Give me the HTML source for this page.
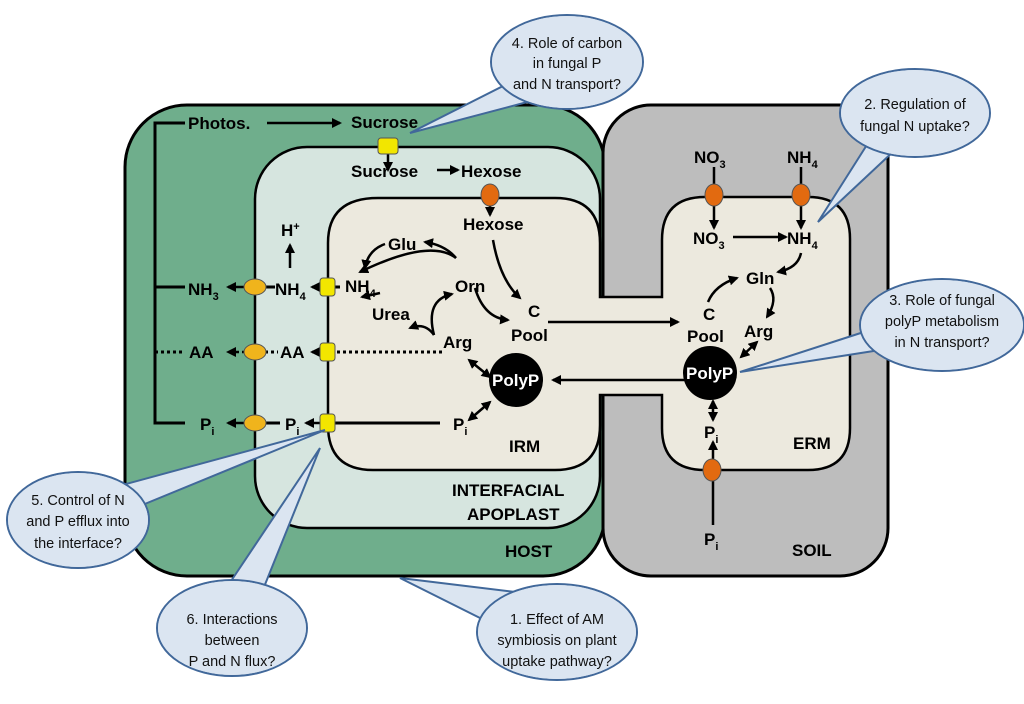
<!DOCTYPE html>
<html><head><meta charset="utf-8"><style>
html,body{margin:0;padding:0;background:#fff}
svg{display:block}
.b{font-family:"Liberation Sans",sans-serif;font-weight:bold;font-size:17px;fill:#000}
.c{font-family:"Liberation Sans",sans-serif;font-size:14.5px;fill:#111;text-anchor:middle}
.w{fill:#fff}
</style></head><body>
<svg width="1024" height="704" viewBox="0 0 1024 704" xmlns="http://www.w3.org/2000/svg">
<defs>
<marker id="a" viewBox="0 0 10 10" refX="8" refY="5" markerWidth="4" markerHeight="4" orient="auto-start-reverse"><path d="M0,0 L10,5 L0,10 Z" fill="#000"/></marker>
</defs>
<rect x="125" y="105" width="480" height="471" rx="62" fill="#6fae8c" stroke="#000" stroke-width="3"/>
<rect x="603" y="105" width="285" height="471" rx="48" fill="#bdbdbd" stroke="#000" stroke-width="3"/>
<rect x="255" y="147" width="345" height="381" rx="52" fill="#d6e5df" stroke="#000" stroke-width="2.5"/>
<path d="M378,198 H555 Q600,198 600,243 V297 H662 V240 Q662,197 705,197 H808 Q850,197 850,239 V428 Q850,470 808,470 H705 Q662,470 662,428 V395 H600 V425 Q600,470 555,470 H373 Q328,470 328,425 V243 Q328,198 378,198 Z" fill="#ece9de" stroke="#000" stroke-width="2.5"/>
<g stroke="#000" stroke-width="3" fill="none">
<path d="M185,123 H155 V423 H185"/>
<path d="M155,287 H185"/>
<path d="M155,352 H182" stroke-dasharray="3,3"/>
<path d="M340,287 H332"/>
<path d="M442,352 H334" stroke-dasharray="3,3"/>
<path d="M440,423 H334"/>
<path d="M265,287 H275"/>
<path d="M265,352 H278" stroke-dasharray="3,3"/>
<path d="M265,423 H280"/>
</g>
<g stroke="#000" stroke-width="2.5" fill="none" marker-end="url(#a)">
<path d="M267,123 H340"/>
<path d="M388,150 V170"/>
<path d="M437,170 H458"/>
<path d="M490,192 V215"/>
<path d="M290,268 V245"/>
<path d="M245,287 H228"/>
<path d="M245,352 H228" stroke-dasharray="3,3"/>
<path d="M245,423 H228"/>
<path d="M320,287 H312"/>
<path d="M320,352 H312"/>
<path d="M320,423 H306"/>
<path d="M456,258 Q430,238 360,272"/>
<path d="M456,258 Q445,245 425,242"/>
<path d="M385,244 Q368,250 365,268"/>
<path d="M380,293 L362,297"/>
<path d="M434,335 Q425,300 452,294"/>
<path d="M434,335 Q425,322 410,328"/>
<path d="M475,288 Q484,318 508,320"/>
<path d="M493,240 Q500,280 520,298"/>
<path d="M548,322 H678"/>
<path d="M697,380 H553"/>
<path d="M714,167 V228"/>
<path d="M801,167 V228"/>
<path d="M733,237 H786"/>
<path d="M801,253 Q798,268 778,272"/>
<path d="M708,302 Q715,285 737,278"/>
<path d="M770,288 Q778,300 767,317"/>
<path d="M713,525 V442"/>
</g>
<g stroke="#000" stroke-width="2.5" fill="none" marker-end="url(#a)" marker-start="url(#a)">
<path d="M469,360 L490,377"/>
<path d="M469,420 L490,402"/>
<path d="M741,357 L757,342"/>
<path d="M713,401 V420"/>
</g>
<g stroke="#555" stroke-width="1">
<rect x="378" y="138" width="20" height="16" rx="3" fill="#f2e600"/>
<rect x="320" y="278" width="15" height="18" rx="3" fill="#f2e600"/>
<rect x="320" y="343" width="15" height="18" rx="3" fill="#f2e600"/>
<rect x="320" y="414" width="15" height="18" rx="3" fill="#f2e600"/>
<ellipse cx="255" cy="287" rx="11" ry="8" fill="#f0b41c"/>
<ellipse cx="255" cy="352" rx="11" ry="8" fill="#f0b41c"/>
<ellipse cx="255" cy="423" rx="11" ry="8" fill="#f0b41c"/>
<ellipse cx="490" cy="195" rx="9" ry="11" fill="#e26a10"/>
<ellipse cx="714" cy="195" rx="9" ry="11" fill="#e26a10"/>
<ellipse cx="801" cy="195" rx="9" ry="11" fill="#e26a10"/>
<ellipse cx="712" cy="470" rx="9" ry="11" fill="#e26a10"/>
</g>
<circle cx="516" cy="380" r="27" fill="#000"/>
<circle cx="710" cy="373" r="27" fill="#000"/>
<text class="b" x="188" y="129">Photos.</text>
<text class="b" x="351" y="128">Sucrose</text>
<text class="b" x="351" y="177">Sucrose</text>
<text class="b" x="461" y="177">Hexose</text>
<text class="b" x="463" y="230">Hexose</text>
<text class="b" x="281" y="236">H<tspan font-size="11" dy="-6">+</tspan></text>
<text class="b" x="188" y="295">NH<tspan font-size="11" dy="5">3</tspan></text>
<text class="b" x="275" y="295">NH<tspan font-size="11" dy="5">4</tspan></text>
<text class="b" x="345" y="292">NH<tspan font-size="11" dy="5">4</tspan></text>
<text class="b" x="388" y="250">Glu</text>
<text class="b" x="455" y="292">Orn</text>
<text class="b" x="372" y="320">Urea</text>
<text class="b" x="443" y="348">Arg</text>
<text class="b" x="528" y="317">C</text>
<text class="b" x="511" y="341">Pool</text>
<text class="b" x="189" y="358">AA</text>
<text class="b" x="280" y="358">AA</text>
<text class="b" x="200" y="430">P<tspan font-size="11" dy="5">i</tspan></text>
<text class="b" x="285" y="430">P<tspan font-size="11" dy="5">i</tspan></text>
<text class="b" x="453" y="430">P<tspan font-size="11" dy="5">i</tspan></text>
<text class="b w" x="492" y="386" font-size="15">PolyP</text>
<text class="b" x="509" y="452">IRM</text>
<text class="b" x="452" y="496">INTERFACIAL</text>
<text class="b" x="467" y="520">APOPLAST</text>
<text class="b" x="505" y="557">HOST</text>
<text class="b" x="694" y="163">NO<tspan font-size="11" dy="5">3</tspan></text>
<text class="b" x="787" y="163">NH<tspan font-size="11" dy="5">4</tspan></text>
<text class="b" x="693" y="244">NO<tspan font-size="11" dy="5">3</tspan></text>
<text class="b" x="787" y="244">NH<tspan font-size="11" dy="5">4</tspan></text>
<text class="b" x="746" y="284">Gln</text>
<text class="b" x="703" y="320">C</text>
<text class="b" x="687" y="342">Pool</text>
<text class="b" x="744" y="337">Arg</text>
<text class="b w" x="686" y="379" font-size="15">PolyP</text>
<text class="b" x="704" y="438">P<tspan font-size="11" dy="5">i</tspan></text>
<text class="b" x="704" y="545">P<tspan font-size="11" dy="5">i</tspan></text>
<text class="b" x="793" y="449">ERM</text>
<text class="b" x="792" y="556">SOIL</text>
<g fill="#dbe5f1" stroke="#41689a" stroke-width="2">
<path d="M515,80 L410,133 L535,100"/><ellipse cx="567" cy="62" rx="76" ry="47"/>
<path d="M870,140 L818,222 L895,150"/><ellipse cx="915" cy="113" rx="75" ry="44"/>
<path d="M870,330 L740,372 L880,350"/><ellipse cx="942" cy="325" rx="82" ry="46"/>
<path d="M115,487 L325,430 L135,508"/><ellipse cx="78" cy="520" rx="71" ry="48"/>
<path d="M225,590 L320,448 L262,592"/><ellipse cx="232" cy="628" rx="75" ry="48"/>
<path d="M480,618 L400,578 L515,592"/><ellipse cx="557" cy="632" rx="80" ry="48"/>
</g>
<g stroke="none" fill="#dbe5f1">
<ellipse cx="567" cy="62" rx="75" ry="46"/><ellipse cx="915" cy="113" rx="74" ry="43"/>
<ellipse cx="942" cy="325" rx="81" ry="45"/><ellipse cx="78" cy="520" rx="70" ry="47"/>
<ellipse cx="232" cy="628" rx="74" ry="47"/><ellipse cx="557" cy="632" rx="79" ry="47"/>
</g>
<text class="c" x="567" y="48">4. Role of carbon</text>
<text class="c" x="567" y="68">in fungal P</text>
<text class="c" x="567" y="89">and N transport?</text>
<text class="c" x="915" y="109">2. Regulation of</text>
<text class="c" x="915" y="131">fungal N uptake?</text>
<text class="c" x="942" y="305">3. Role of fungal</text>
<text class="c" x="942" y="326">polyP metabolism</text>
<text class="c" x="942" y="347">in N transport?</text>
<text class="c" x="78" y="505">5. Control of N</text>
<text class="c" x="78" y="526">and P efflux into</text>
<text class="c" x="78" y="548">the interface?</text>
<text class="c" x="232" y="624">6. Interactions</text>
<text class="c" x="232" y="645">between</text>
<text class="c" x="232" y="666">P and N flux?</text>
<text class="c" x="557" y="624">1. Effect of AM</text>
<text class="c" x="557" y="645">symbiosis on plant</text>
<text class="c" x="557" y="666">uptake pathway?</text>
</svg>
</body></html>
